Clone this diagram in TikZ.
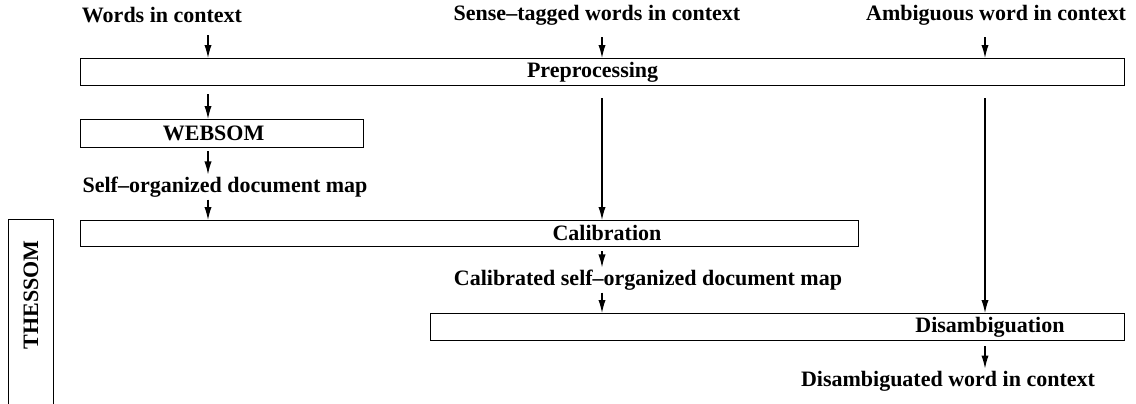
\documentclass[tikz,border=0pt]{standalone}
\usepackage{fontspec}
\setmainfont{Liberation Serif}
\usetikzlibrary{arrows.meta}

\tikzset{
  box/.style={draw, line width=0.6pt, rectangle, anchor=north west, inner sep=0pt},
  txt/.style={font=\bfseries\fontsize{11}{13}\selectfont, inner sep=1pt},
  arr/.style={-{Latex[length=6.5pt,width=3.6pt]}, line width=0.6pt},
}

\begin{document}
\begin{tikzpicture}[x=0.5pt,y=-0.5pt]
          \useasboundingbox (0,0) rectangle (1136,403);
          \coordinate (c1) at (208,0);
          \coordinate (c2) at (602,0);
          \coordinate (c3) at (985,0);
          % inputs
          \node[txt] (words) at (162,15) {Words in context};
          \node[txt] (sense) at (597,15) {Sense--tagged words in context};
          \node[txt] (ambig) at (996,15) {Ambiguous word in context};
          % boxes
          \node[box, txt, minimum width=522pt, minimum height=13.5pt] (pre) at (80,58) {\hspace*{-10pt}Preprocessing};
          \node[box, txt, minimum width=141.5pt, minimum height=14pt] (websom) at (80,119) {\hspace*{-8.5pt}WEBSOM};
          \node[box, minimum width=389pt, minimum height=13pt] (calib) at (80,220) {};
          \node[txt] (calibtxt) at (607,233) {Calibration};
          \node[box, minimum width=347pt, minimum height=13.5pt] (disamb) at (430,313) {};
          \node[txt] (disambtxt) at (990,327) {Disambiguation};
          \node[box, minimum width=22.5pt, minimum height=100pt] (thessom) at (8,219) {};
          \node[txt, rotate=90] (thessomtxt) at (31,295) {THESSOM};
          % intermediate and final texts
          \node[txt] (selfmap) at (225,187) {Self--organized document map};
          \node[txt] (calmap) at (648,280) {Calibrated self--organized document map};
          \node[txt] (result) at (948,381) {Disambiguated word in context};
          % arrows
          \draw[arr, shorten <=5pt] (words.south -| c1) -- (pre.north -| c1);
          \draw[arr, shorten <=5pt] (sense.south -| c2) -- (pre.north -| c2);
          \draw[arr, shorten <=5pt] (ambig.south -| c3) -- (pre.north -| c3);
          \draw[arr, shorten <=4pt] (pre.south -| c1) -- (websom.north -| c1);
          \draw[arr, shorten <=1.5pt] (websom.south -| c1) -- (selfmap.north -| c1);
          \draw[arr] (selfmap.south -| c1) -- (calib.north -| c1);
          \draw[arr, shorten <=6pt] (pre.south -| c2) -- (calib.north -| c2);
          \draw[arr, shorten <=6pt] (pre.south -| c3) -- (disamb.north -| c3);
          \draw[arr, shorten <=2pt] (calib.south -| c2) -- (calmap.north -| c2);
          \draw[arr] (calmap.south -| c2) -- (disamb.north -| c2);
          \draw[arr, shorten <=2.5pt] (disamb.south -| c3) -- (result.north -| c3);
        \end{tikzpicture}
\end{document}
